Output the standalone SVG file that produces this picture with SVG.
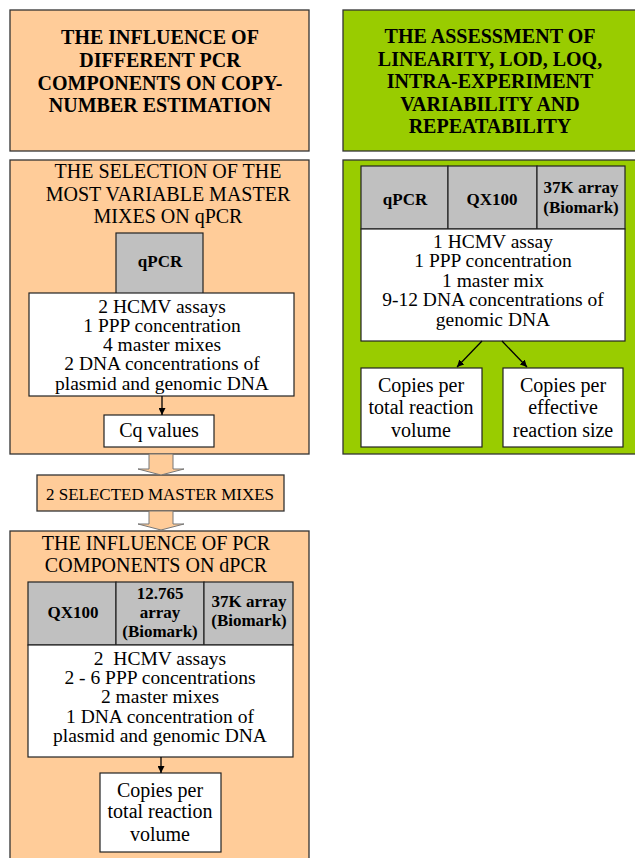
<svg xmlns="http://www.w3.org/2000/svg" width="635" height="858" viewBox="0 0 635 858">
<defs>
<style>
.or{fill:#FFCC99;stroke:#333;stroke-width:1.3}
.gr{fill:#99CC00;stroke:#333;stroke-width:1.3}
.gy{fill:#C0C0C0;stroke:#222;stroke-width:1.2}
.wh{fill:#FFFFFF;stroke:#222;stroke-width:1.2}
.tb{font-family:"Liberation Serif","Times New Roman",serif;font-weight:bold;font-size:20px;text-anchor:middle;fill:#000}
.tr{font-family:"Liberation Serif","Times New Roman",serif;font-size:20px;text-anchor:middle;fill:#000}
.tp{font-family:"Liberation Serif","Times New Roman",serif;font-size:19.5px;text-anchor:middle;fill:#000}
.tg{font-family:"Liberation Serif","Times New Roman",serif;font-weight:bold;font-size:17px;text-anchor:middle;fill:#000}
.ts{font-family:"Liberation Serif","Times New Roman",serif;font-size:17px;text-anchor:middle;fill:#000}
.ln{stroke:#000;stroke-width:1.3;fill:none}
.blk{fill:#FFCC99;stroke:#777;stroke-width:1}
</style>
<marker id="ah" viewBox="0 0 10 10" refX="10" refY="5" markerWidth="7" markerHeight="7" orient="auto" markerUnits="userSpaceOnUse">
<path d="M0,0 L10,5 L0,10 Z" fill="#000"/>
</marker>
</defs>
<rect width="635" height="858" fill="#fff"/>

<g id="box-influence-title">
<rect class="or" x="10" y="10" width="299" height="141"/>
<text class="tb" x="160" y="44">THE INFLUENCE OF</text>
<text class="tb" x="160" y="67">DIFFERENT PCR</text>
<text class="tb" x="160" y="90">COMPONENTS ON COPY-</text>
<text class="tb" x="160" y="112">NUMBER ESTIMATION</text>
</g>

<g id="box-assessment-title">
<rect class="gr" x="343" y="10" width="300" height="141"/>
<text class="tb" x="490" y="43">THE ASSESSMENT OF</text>
<text class="tb" x="490" y="66">LINEARITY, LOD, LOQ,</text>
<text class="tb" x="490" y="88">INTRA-EXPERIMENT</text>
<text class="tb" x="490" y="111">VARIABILITY AND</text>
<text class="tb" x="490" y="133">REPEATABILITY</text>
</g>

<g id="box-selection">
<rect class="or" x="10" y="160" width="299" height="294"/>
<text class="tr" x="168" y="178">THE SELECTION OF THE</text>
<text class="tr" x="168" y="201">MOST VARIABLE MASTER</text>
<text class="tr" x="168" y="223">MIXES ON qPCR</text>
</g>

<g id="sel-qpcr">
<rect class="gy" x="116" y="233" width="87" height="61"/>
<text class="tg" x="160" y="267">qPCR</text>
</g>

<g id="sel-params">
<rect class="wh" x="29" y="293" width="265" height="103"/>
<text class="tp" x="162" y="313">2 HCMV assays</text>
<text class="tp" x="162" y="332">1 PPP concentration</text>
<text class="tp" x="162" y="351">4 master mixes</text>
<text class="tp" x="162" y="370">2 DNA concentrations of</text>
<text class="tp" x="162" y="390">plasmid and genomic DNA</text>
</g>

<g id="sel-cq">
<rect class="wh" x="104" y="415" width="110" height="32"/>
<text class="tr" x="159" y="437">Cq values</text>
</g>

<g id="selected-mixes">
<rect class="or" x="37" y="475" width="247" height="36"/>
<text class="ts" x="160" y="500">2 SELECTED MASTER MIXES</text>
</g>

<g id="box-dpcr">
<rect class="or" x="10" y="531" width="299" height="335"/>
<text class="tr" x="156" y="550">THE INFLUENCE OF PCR</text>
<text class="tr" x="156" y="572">COMPONENTS ON dPCR</text>
</g>

<g id="dpcr-platforms">
<rect class="gy" x="28" y="582" width="88" height="63"/>
<rect class="gy" x="116" y="582" width="88" height="63"/>
<rect class="gy" x="204" y="582" width="89" height="63"/>
<text class="tg" x="73" y="618">QX100</text>
<text class="tg" x="160" y="599">12.765</text>
<text class="tg" x="160" y="618">array</text>
<text class="tg" x="160" y="637">(Biomark)</text>
<text class="tg" x="249" y="607">37K array</text>
<text class="tg" x="249" y="626">(Biomark)</text>
</g>

<g id="dpcr-params">
<rect class="wh" x="28" y="645" width="265" height="112"/>
<text class="tp" x="160" y="665" style="white-space:pre">2  HCMV assays</text>
<text class="tp" x="160" y="684">2 - 6 PPP concentrations</text>
<text class="tp" x="160" y="703">2 master mixes</text>
<text class="tp" x="160" y="723">1 DNA concentration of</text>
<text class="tp" x="160" y="742">plasmid and genomic DNA</text>
</g>

<g id="dpcr-result">
<rect class="wh" x="100" y="773" width="121" height="79"/>
<text class="tr" x="160" y="797">Copies per</text>
<text class="tr" x="160" y="818">total reaction</text>
<text class="tr" x="160" y="841">volume</text>
</g>

<g id="box-assessment">
<rect class="gr" x="343" y="160" width="300" height="294"/>
</g>

<g id="as-platforms">
<rect class="gy" x="361" y="166" width="87" height="63"/>
<rect class="gy" x="448" y="166" width="89" height="63"/>
<rect class="gy" x="537" y="166" width="88" height="63"/>
<text class="tg" x="405" y="205">qPCR</text>
<text class="tg" x="492" y="205">QX100</text>
<text class="tg" x="581" y="193">37K array</text>
<text class="tg" x="581" y="213">(Biomark)</text>
</g>

<g id="as-params">
<rect class="wh" x="361" y="229" width="264" height="112"/>
<text class="tp" x="493" y="248">1 HCMV assay</text>
<text class="tp" x="493" y="267">1 PPP concentration</text>
<text class="tp" x="493" y="287">1 master mix</text>
<text class="tp" x="493" y="306">9-12 DNA concentrations of</text>
<text class="tp" x="493" y="326">genomic DNA</text>
</g>

<g id="as-result-total">
<rect class="wh" x="361" y="368" width="121" height="79"/>
<text class="tr" x="421" y="392">Copies per</text>
<text class="tr" x="421" y="414">total reaction</text>
<text class="tr" x="421" y="437">volume</text>
</g>

<g id="as-result-effective">
<rect class="wh" x="503" y="368" width="120" height="79"/>
<text class="tr" x="563" y="392">Copies per</text>
<text class="tr" x="563" y="414">effective</text>
<text class="tr" x="563" y="437">reaction size</text>
</g>

<g id="connectors">
<line class="ln" x1="162" y1="396" x2="162" y2="415" marker-end="url(#ah)"/>
<line class="ln" x1="161" y1="757" x2="161" y2="773" marker-end="url(#ah)"/>
<line class="ln" x1="482" y1="341" x2="457" y2="367" marker-end="url(#ah)"/>
<line class="ln" x1="502" y1="341" x2="527" y2="367" marker-end="url(#ah)"/>
<path class="blk" d="M149,454 L173,454 L173,469 L184,469 L161,475 L138,469 L149,469 Z"/>
<path class="blk" d="M149,511 L173,511 L173,524 L184,524 L161,530 L138,524 L149,524 Z"/>
</g>
</svg>
